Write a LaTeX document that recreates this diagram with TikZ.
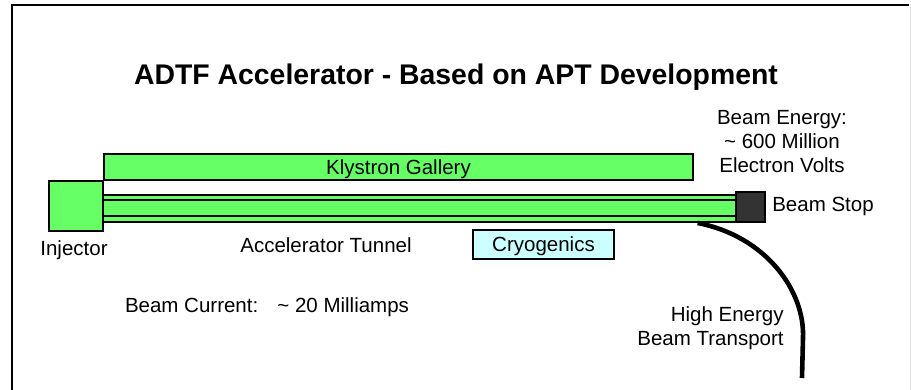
\documentclass[tikz,border=0pt]{standalone}
\usepackage{fontspec}
\setmainfont{Liberation Sans}
\usepackage{xcolor}
\usetikzlibrary{calc,positioning}
\definecolor{boxgreen}{RGB}{102,255,102}
\definecolor{cryocyan}{RGB}{204,255,255}
\definecolor{stopgray}{RGB}{51,51,51}

\begin{document}
\begin{tikzpicture}[x=0.5pt, y=-0.5pt,
  lbl/.style={font=\fontsize{10.25}{12}\selectfont, inner sep=0pt},
  hall/.style={draw=black, line width=1pt, fill=boxgreen, inner sep=0pt,
    font=\fontsize{10.25}{12}\selectfont, text height=0.72em, text depth=0pt},
  cryobox/.style={hall, fill=cryocyan},
]
  \useasboundingbox (0,0) rectangle (911,390);

  % frame
  \draw[gray!25, line width=0.5pt] (910,5) -- (910,390);
  \draw[black, line width=1pt] (12,390) -- (12,5) -- (909,5);

  % title
  \node[lbl, anchor=base, font=\fontsize{14.2}{17}\selectfont\bfseries]
    (title) at (456,85) {ADTF Accelerator - Based on APT Development};

  % klystron gallery
  \node[hall, minimum width=294.5pt, minimum height=13pt]
    (klystron) at (398.5,167) {Klystron Gallery};

  % accelerator tunnel (double wall)
  \node[hall, minimum width=316.5pt, minimum height=13.5pt]
    (tunnel) at (419.5,208.5) {};
  \node[hall, minimum width=316.5pt, minimum height=8pt]
    (beamline) at (419.5,208) {};

  % injector and beam stop
  \node[hall, minimum width=27pt, minimum height=25pt]
    (injector) at (76,206) {};
  \node[hall, fill=stopgray, minimum width=14.5pt, minimum height=15pt]
    (stop) at (750.5,207) {};

  % cryogenics
  \node[cryobox, minimum width=70.5pt, minimum height=14.5pt]
    (cryo) at (543.5,244.5) {Cryogenics};

  % high energy beam transport
  \coordinate (transport end) at (802,378);
  \draw[line width=2.3pt]
    ($(tunnel.south west)!0.938!(tunnel.south east)$)
    .. controls (765,236) and (805,290) .. (803,338) -- (transport end);

  % labels
  \node[lbl, anchor=base] (injector label) at (74,256) {Injector};
  \node[lbl, anchor=base] (tunnel label) at (326,252) {Accelerator Tunnel};
  \node[lbl, anchor=base] (current) at (267,312)
    {Beam Current:\hspace{0.56em} \textasciitilde{} 20 Milliamps};
  \node[lbl, anchor=base] (stop label) at (823,212) {Beam Stop};
  \node[lbl, align=center] (energy) at (782,142)
    {Beam Energy:\\ \textasciitilde{} 600 Million\\ Electron Volts};
  \node[lbl, align=right, anchor=east] (transport label) at (784,328)
    {High Energy\\ Beam Transport};
\end{tikzpicture}
\end{document}
